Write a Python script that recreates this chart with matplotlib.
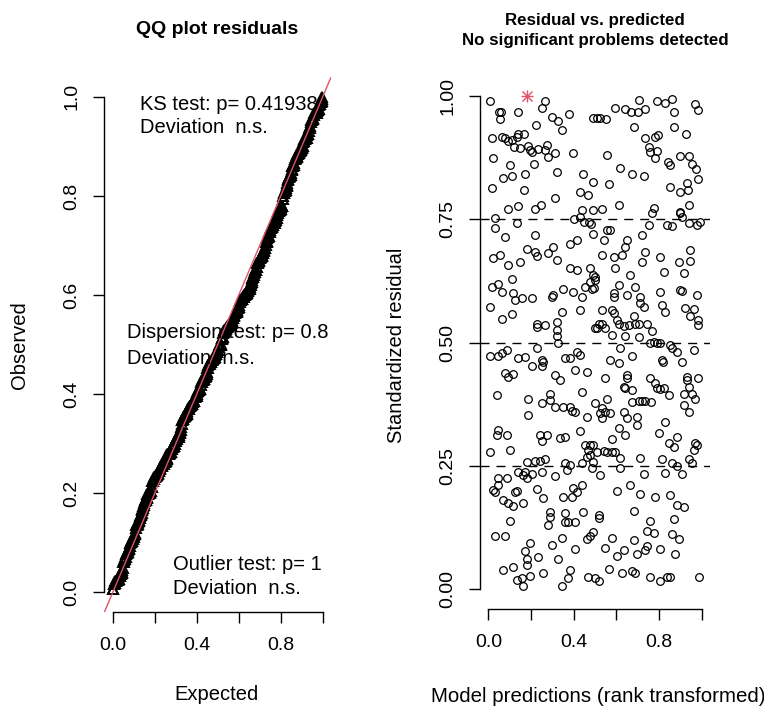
import numpy as np
import matplotlib.pyplot as plt

plt.rcParams['font.family'] = ['Liberation Sans', 'DejaVu Sans']

# (rank transformed prediction, scaled residual)
points = [
    (.01, .99), (.05, .967), (.06, .967), (.055, .953), (.14, .967), (.266, .99), (.25, .976),
    (.297, .958), (.328, .949), (.347, .932), (.378, .963), (.222, .941), (.016, .915), (.066, .917),
    (.078, .914), (.094, .909), (.109, .911), (.133, .917), (.14, .924), (.169, .924), (.122, .897),
    (.149, .894), (.187, .898), (.195, .89), (.203, .887), (.234, .892), (.274, .90), (.266, .89),
    (.281, .877), (.313, .884), (.398, .884), (.023, .875), (.10, .86), (.216, .863), (.32, .846),
    (.445, .843), (.49, .826), (.07, .834), (.11, .838), (.172, .843), (.016, .813), (.169, .809),
    (.313, .793), (.43, .805), (.469, .80), (.094, .772), (.14, .777), (.219, .771), (.247, .779),
    (.438, .769), (.49, .769),
    (.49, .955), (.51, .955), (.525, .955), (.55, .954), (.705, .992), (.79, .99), (.83, .985),
    (.861, .995), (.97, .983), (.983, .971), (.595, .976), (.642, .973), (.67, .967), (.70, .967),
    (.736, .973), (.869, .967), (.681, .938), (.869, .938), (.926, .924), (.736, .915), (.783, .917),
    (.795, .922), (.752, .897), (.76, .887), (.79, .888), (.783, .875), (.556, .88), (.842, .866),
    (.853, .86), (.90, .879), (.942, .879), (.955, .863), (.973, .853), (.619, .855), (.673, .841),
    (.728, .838), (.985, .832), (.564, .821), (.853, .816), (.93, .823), (.90, .806), (.936, .809),
    (.533, .772), (.614, .78), (.775, .774), (.939, .78), (.90, .765),
    (.031, .752), (.031, .732), (.133, .742), (.078, .715), (.219, .718), (.40, .75), (.43, .755),
    (.45, .745), (.47, .745), (.48, .74), (.49, .72), (.383, .701), (.414, .709), (.18, .691),
    (.219, .684), (.227, .676), (.281, .681), (.305, .694), (.32, .668), (.023, .671), (.055, .678),
    (.094, .657), (.149, .664), (.383, .651), (.414, .647), (.477, .651), (.492, .637), (.477, .624),
    (.50, .627), (.11, .63), (.016, .613), (.047, .62), (.063, .603), (.117, .60), (.125, .587),
    (.156, .59), (.203, .59), (.297, .593), (.305, .597), (.351, .608), (.398, .603), (.438, .592),
    (.453, .612), (.485, .608), (.008, .573), (.063, .549), (.11, .558), (.227, .539), (.266, .536),
    (.227, .532), (.344, .563), (.43, .566), (.32, .543), (.32, .526), (.32, .514), (.50, .529),
    (.767, .762), (.90, .762), (.908, .755), (.939, .742), (.978, .738), (.993, .745), (.752, .738),
    (.837, .738), (.861, .736), (.556, .728), (.572, .728), (.541, .708), (.72, .718), (.65, .708),
    (.642, .694), (.533, .678), (.588, .674), (.627, .678), (.736, .684), (.72, .664), (.806, .674),
    (.892, .664), (.947, .688), (.947, .666), (.595, .651), (.665, .637), (.822, .644), (.916, .641),
    (.50, .634), (.494, .61), (.611, .617), (.689, .612), (.588, .60), (.588, .593), (.65, .597),
    (.712, .593), (.712, .58), (.728, .573), (.806, .603), (.90, .607), (.908, .605), (.978, .597),
    (.814, .576), (.83, .563), (.923, .57), (.962, .568), (.947, .554), (.985, .547), (.985, .536),
    (.533, .566), (.58, .566), (.588, .56), (.681, .554), (.689, .539), (.603, .546), (.611, .539),
    (.635, .534), (.658, .536), (.705, .537), (.744, .539), (.767, .524), (.517, .539), (.548, .529),
    (.509, .529), (.533, .539), (.58, .516), (.642, .514), (.705, .512),
    (.328, .499), (.227, .489), (.008, .474), (.047, .474), (.063, .479), (.086, .485), (.14, .47),
    (.172, .472), (.203, .453), (.25, .465), (.25, .453), (.258, .461), (.36, .47), (.383, .47),
    (.414, .481), (.43, .475), (.078, .438), (.094, .431), (.117, .436), (.313, .435), (.336, .424),
    (.406, .445), (.461, .441), (.039, .395), (.187, .387), (.25, .377), (.289, .397), (.289, .384),
    (.313, .37), (.351, .37), (.383, .37), (.391, .362), (.406, .359), (.438, .40), (.461, .35),
    (.50, .377), (.187, .354), (.047, .323), (.039, .314), (.086, .314), (.242, .313), (.274, .313),
    (.25, .30), (.336, .306), (.36, .31), (.43, .321), (.008, .279), (.10, .283), (.453, .293),
    (.477, .293), (.492, .293), (.469, .283), (.461, .269), (.477, .272), (.18, .259), (.219, .26),
    (.242, .26), (.266, .264), (.36, .256), (.438, .256),
    (.759, .499), (.775, .502), (.79, .499), (.806, .499), (.853, .495), (.861, .489), (.884, .482),
    (.962, .485), (.619, .489), (.673, .474), (.572, .465), (.611, .458), (.814, .465), (.817, .46),
    (.908, .461), (.548, .429), (.65, .435), (.65, .429), (.759, .428), (.783, .418), (.79, .408),
    (.806, .406), (.822, .408), (.845, .395), (.931, .431), (.931, .424), (.985, .428), (.635, .411),
    (.642, .408), (.673, .404), (.939, .411), (.916, .397), (.955, .397), (.97, .387), (.556, .387),
    (.673, .379), (.705, .381), (.72, .381), (.736, .381), (.764, .379), (.916, .374), (.939, .359),
    (.533, .367), (.525, .357), (.548, .36), (.572, .357), (.533, .347), (.635, .36), (.65, .347),
    (.697, .35), (.697, .333), (.83, .339), (.798, .318), (.611, .327), (.642, .313), (.58, .305),
    (.845, .296), (.884, .31), (.869, .289), (.97, .296), (.978, .293), (.962, .283), (.509, .279),
    (.541, .281), (.556, .279), (.58, .279), (.595, .279), (.619, .266), (.712, .267), (.814, .264),
    (.861, .256), (.939, .264), (.955, .256),
    (.367, .242), (.383, .252), (.485, .246), (.492, .259), (.14, .239), (.164, .232), (.172, .239),
    (.18, .225), (.203, .235), (.25, .239), (.313, .229), (.047, .225), (.086, .225), (.047, .212),
    (.031, .198), (.023, .201), (.125, .198), (.133, .20), (.227, .203), (.258, .185), (.351, .187),
    (.391, .187), (.398, .205), (.414, .198), (.438, .212), (.07, .181), (.094, .175), (.117, .169),
    (.164, .176), (.289, .158), (.289, .147), (.281, .131), (.36, .154), (.36, .137), (.375, .137),
    (.406, .137), (.445, .156), (.10, .139), (.031, .108), (.078, .108), (.461, .102), (.492, .117),
    (.477, .108), (.195, .094), (.172, .077), (.18, .061), (.234, .066), (.297, .09), (.344, .104),
    (.328, .061), (.406, .081), (.07, .04), (.117, .045), (.18, .05), (.195, .027), (.258, .033),
    (.156, .023), (.133, .019), (.164, .007), (.383, .04), (.375, .023), (.344, .007), (.469, .026),
    (.50, .023),
    (.525, .232), (.619, .246), (.728, .235), (.83, .237), (.884, .25), (.908, .234), (.603, .20),
    (.665, .212), (.712, .193), (.783, .187), (.853, .191), (.884, .171), (.916, .167), (.681, .16),
    (.517, .151), (.517, .144), (.759, .139), (.869, .142), (.58, .104), (.681, .10), (.744, .119),
    (.775, .115), (.861, .112), (.892, .102), (.548, .085), (.603, .068), (.635, .079), (.697, .072),
    (.736, .079), (.744, .088), (.806, .081), (.876, .072), (.564, .041), (.627, .034), (.673, .038),
    (.689, .033), (.759, .025), (.806, .018), (.837, .026), (.853, .025), (.986, .025), (.517, .018),
]
# residual flagged as outlier (red star)
outlier_pred = [0.18]
outlier_resid = [1.0]

ks_lines = ["KS test: p= 0.41938", "Deviation  n.s."]
disp_lines = ["Dispersion test: p= 0.8", "Deviation  n.s."]
outl_lines = ["Outlier test: p= 1", "Deviation  n.s."]

qq_ticks = [0, 0.2, 0.4, 0.6, 0.8, 1.0]
qq_xlabels = ["0.0", "", "0.4", "", "0.8", ""]
qq_ylabels = ["0.0", "0.2", "0.4", "0.6", "0.8", "1.0"]
res_yticks = [0, 0.25, 0.5, 0.75, 1.0]
res_ylabels = ["0.00", "0.25", "0.50", "0.75", "1.00"]
res_xlabels = ["0.0", "", "0.4", "", "0.8", ""]

pred = np.array([p[0] for p in points])
resid = np.array([p[1] for p in points])

# QQ data: sorted residuals against uniform plotting positions
observed = np.sort(np.concatenate([resid, outlier_resid]))
n = len(observed)
expected = (np.arange(1, n + 1) - 0.5) / n

W, H = 764, 707
fig = plt.figure(figsize=(W / 100, H / 100), dpi=100)

def r_style(ax, xt, xl, yt, yl):
    # mimic base R axes: no box, axis lines only over the tick range
    ax.set_xlim(-0.04, 1.04)
    ax.set_ylim(-0.04, 1.04)
    for s in ['top', 'right']:
        ax.spines[s].set_visible(False)
    ax.spines['left'].set_bounds(0, 1)
    ax.spines['bottom'].set_bounds(0, 1)
    ax.spines['left'].set_linewidth(1)
    ax.spines['bottom'].set_linewidth(1)
    ax.set_xticks(xt)
    ax.set_xticklabels(xl)
    ax.set_yticks(yt)
    ax.set_yticklabels(yl, rotation=90, va='center')
    ax.tick_params(direction='out', length=8, width=1, labelsize=14)
    ax.tick_params(axis='x', pad=10)
    ax.tick_params(axis='y', pad=9)

# left: QQ plot
ax1 = fig.add_axes([104.3 / W, 1 - 612.3 / H, 226.8 / W, 535.3 / H])
ax1.plot(expected, observed, '^', mfc='none', mec='black', ms=6.5, mew=1.4)
ax1.axline((0, 0), (1, 1), color='#DF536B', lw=1)
r_style(ax1, qq_ticks, qq_xlabels, qq_ticks, qq_ylabels)
for y, s in zip([0.984, 0.939], ks_lines):
    ax1.text(0.13, y, s, fontsize=14.5, va='center')
for y, s in zip([0.524, 0.473], disp_lines):
    ax1.text(0.067, y, s, fontsize=14.5, va='center')
for y, s in zip([0.0555, 0.009], outl_lines):
    ax1.text(0.287, y, s, fontsize=14.5, va='center')

# right: residual vs predicted
ax2 = fig.add_axes([479.8 / W, 1 - 609.2 / H, 230.4 / W, 532.9 / H])
for yl in [0.25, 0.5, 0.75]:
    ax2.axhline(yl, color='black', lw=1, linestyle=(0, (6.5, 5)))
ax2.plot(pred, resid, 'o', mfc='none', mec='black', ms=5.5, mew=0.9)
ax2.plot(outlier_pred, outlier_resid, '+', color='#DF536B', ms=9, mew=1, clip_on=False)
ax2.plot(outlier_pred, outlier_resid, 'x', color='#DF536B', ms=7, mew=1, clip_on=False)
r_style(ax2, qq_ticks, res_xlabels, res_yticks, res_ylabels)

# titles and axis labels
fig.text(217 / W, 1 - 30 / H, "QQ plot residuals", ha='center', va='center',
         fontsize=14, fontweight='bold')
fig.text(595 / W, 1 - 20 / H, "Residual vs. predicted", ha='center', va='center',
         fontsize=12.2, fontweight='bold')
fig.text(595 / W, 1 - 40 / H, "No significant problems detected", ha='center', va='center',
         fontsize=12.2, fontweight='bold')
fig.text(216 / W, 1 - 695 / H, "Expected", ha='center', va='center', fontsize=14.5)
fig.text(20 / W, 1 - 345 / H, "Observed", ha='center', va='center', fontsize=14.5, rotation=90)
fig.text(397 / W, 1 - 345 / H, "Standardized residual", ha='center', va='center',
         fontsize=14.5, rotation=90)
fig.text(598 / W, 1 - 697 / H, "Model predictions (rank transformed)", ha='center',
         va='center', fontsize=14.8)

fig.savefig("out.png", dpi=100)
